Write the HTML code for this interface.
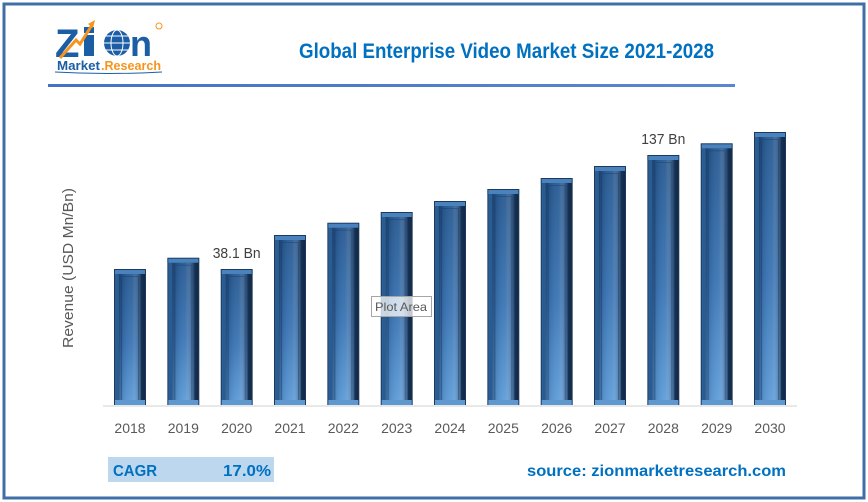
<!DOCTYPE html>
<html><head><meta charset="utf-8"><style>
html,body{margin:0;padding:0;background:#fff;}
svg{display:block;}
text{font-family:"Liberation Sans",sans-serif;}
</style></head><body>
<svg width="868" height="502" viewBox="0 0 868 502" xmlns="http://www.w3.org/2000/svg">
<defs>
<linearGradient id="side" x1="0" y1="0" x2="1" y2="0">
<stop offset="0" stop-color="#2c5f96"/><stop offset="0.5" stop-color="#24507f"/><stop offset="1" stop-color="#12263f"/>
</linearGradient>
<linearGradient id="face" x1="0" y1="0" x2="0" y2="1">
<stop offset="0" stop-color="#285a92"/><stop offset="0.5" stop-color="#3b75b4"/><stop offset="1" stop-color="#62a1dd"/>
</linearGradient>
<linearGradient id="faceH" x1="0" y1="0" x2="1" y2="0">
<stop offset="0" stop-color="#0a1e3c" stop-opacity="0.45"/><stop offset="0.2" stop-color="#0a1e3c" stop-opacity="0.1"/><stop offset="0.6" stop-color="#ffffff" stop-opacity="0.05"/><stop offset="1" stop-color="#0a1e3c" stop-opacity="0.55"/>
</linearGradient>
<linearGradient id="rule" x1="0" y1="0" x2="1" y2="0">
<stop offset="0" stop-color="#4472c4"/><stop offset="1" stop-color="#5b86cf"/>
</linearGradient>
<symbol id="bar" overflow="hidden">
<rect width="100%" height="100%" fill="url(#side)"/>
<rect x="5" y="5" width="22" height="100%" fill="url(#face)"/>
<rect x="5" y="5" width="22" height="100%" fill="url(#faceH)"/>
<rect x="7.5" y="7.5" width="17" height="100%" fill="none" stroke="#1d3f66" stroke-opacity="0.45" stroke-width="1"/>
<rect width="32" height="5" fill="#4a82bd"/>
<rect y="100%" transform="translate(0,-5)" width="32" height="5" fill="#5f97cf"/>
<rect x="0.5" y="0.5" width="31" height="100%" fill="none" stroke="#1b3a5e" stroke-width="1"/>
</symbol>
</defs>
<rect x="0" y="0" width="868" height="502" fill="#fff"/>
<rect x="4" y="4" width="860" height="494" fill="none" stroke="#3f6fa6" stroke-width="3"/>

<!-- logo -->
<g>
<text x="55" y="57" font-size="40" font-weight="bold" fill="#1b5ea6">Z</text>
<rect x="84" y="35" width="10" height="21" fill="#1b5ea6"/>
<rect x="84" y="27" width="10" height="6" fill="#1b5ea6"/>
<circle cx="117" cy="43" r="13" fill="#1b5ea6"/>
<ellipse cx="117" cy="43" rx="6" ry="13" fill="none" stroke="#fff" stroke-width="1"/>
<line x1="104" y1="43" x2="130" y2="43" stroke="#fff" stroke-width="1"/>
<line x1="106" y1="36" x2="128" y2="36" stroke="#fff" stroke-width="1"/>
<line x1="106" y1="50" x2="128" y2="50" stroke="#fff" stroke-width="1"/>
<text x="130" y="56" font-size="36" font-weight="bold" fill="#1b5ea6">n</text>
<polyline points="60,58 76,40 80,44 92,25" fill="none" stroke="#f7941d" stroke-width="3"/>
<polygon points="88,24 95,20 93,28" fill="#f7941d"/>
<circle cx="159" cy="26" r="3" fill="none" stroke="#f7941d" stroke-width="1"/>
<text x="57" y="70" font-size="12.5" font-weight="bold" fill="#1b5ea6" textLength="43" lengthAdjust="spacingAndGlyphs">Market</text>
<text x="101" y="70" font-size="12.5" font-weight="bold" fill="#f7941d" textLength="60" lengthAdjust="spacingAndGlyphs">.Research</text>
<path d="M55,72 Q108,75 162,72" fill="none" stroke="#1b5ea6" stroke-width="1"/>
</g>

<text x="299" y="58" font-size="21" font-weight="bold" fill="#0070c0" textLength="415" lengthAdjust="spacingAndGlyphs">Global Enterprise Video Market Size 2021-2028</text>
<rect x="48" y="84" width="687" height="3" fill="url(#rule)"/>

<text transform="translate(73,268) rotate(-90)" text-anchor="middle" font-size="15" fill="#595959" textLength="160" lengthAdjust="spacingAndGlyphs">Revenue (USD Mn/Bn)</text>

<line x1="103" y1="406" x2="797" y2="406" stroke="#d9d9d9" stroke-width="1.2"/>

<!-- bars -->
<g>
<svg x="114" y="269" width="32" height="136"><use href="#bar" width="32" height="136"/></svg>
<svg x="167.3" y="257.7" width="32" height="147.3"><use href="#bar" width="32" height="147.3"/></svg>
<svg x="220.7" y="269" width="32" height="136"><use href="#bar" width="32" height="136"/></svg>
<svg x="274" y="235" width="32" height="170"><use href="#bar" width="32" height="170"/></svg>
<svg x="327.3" y="222.7" width="32" height="182.3"><use href="#bar" width="32" height="182.3"/></svg>
<svg x="380.7" y="212" width="32" height="193"><use href="#bar" width="32" height="193"/></svg>
<svg x="434" y="201" width="32" height="204"><use href="#bar" width="32" height="204"/></svg>
<svg x="487.3" y="189" width="32" height="216"><use href="#bar" width="32" height="216"/></svg>
<svg x="540.7" y="178" width="32" height="227"><use href="#bar" width="32" height="227"/></svg>
<svg x="594" y="166" width="32" height="239"><use href="#bar" width="32" height="239"/></svg>
<svg x="647.3" y="155" width="32" height="250"><use href="#bar" width="32" height="250"/></svg>
<svg x="700.7" y="143.3" width="32" height="261.7"><use href="#bar" width="32" height="261.7"/></svg>
<svg x="754" y="132" width="32" height="273"><use href="#bar" width="32" height="273"/></svg>
</g>

<!-- data labels -->
<text x="236.7" y="258" text-anchor="middle" font-size="14.5" fill="#404040" textLength="48" lengthAdjust="spacingAndGlyphs">38.1 Bn</text>
<text x="663.3" y="144" text-anchor="middle" font-size="14.5" fill="#404040" textLength="44" lengthAdjust="spacingAndGlyphs">137 Bn</text>

<!-- year labels -->
<g font-size="14" fill="#595959" text-anchor="middle">
<text x="130" y="433">2018</text>
<text x="183.3" y="433">2019</text>
<text x="236.7" y="433">2020</text>
<text x="290" y="433">2021</text>
<text x="343.3" y="433">2022</text>
<text x="396.7" y="433">2023</text>
<text x="450" y="433">2024</text>
<text x="503.3" y="433">2025</text>
<text x="556.7" y="433">2026</text>
<text x="610" y="433">2027</text>
<text x="663.3" y="433">2028</text>
<text x="716.7" y="433">2029</text>
<text x="770" y="433">2030</text>
</g>

<!-- tooltip -->
<rect x="371.5" y="296.5" width="60" height="20" fill="#ffffff" fill-opacity="0.75" stroke="#a6a6a6" stroke-width="1"/>
<text x="375" y="311" font-size="12" fill="#595959" textLength="52" lengthAdjust="spacingAndGlyphs">Plot Area</text>

<!-- CAGR -->
<rect x="108" y="457" width="166" height="25" fill="#bdd7ee"/>
<text x="113" y="476" font-size="16" font-weight="bold" fill="#0070c0" textLength="44" lengthAdjust="spacingAndGlyphs">CAGR</text>
<text x="271" y="476" text-anchor="end" font-size="16" font-weight="bold" fill="#0070c0" textLength="48" lengthAdjust="spacingAndGlyphs">17.0%</text>

<text x="527" y="476" font-size="16" font-weight="bold" fill="#0070c0" textLength="259" lengthAdjust="spacingAndGlyphs">source: zionmarketresearch.com</text>
</svg>
</body></html>
